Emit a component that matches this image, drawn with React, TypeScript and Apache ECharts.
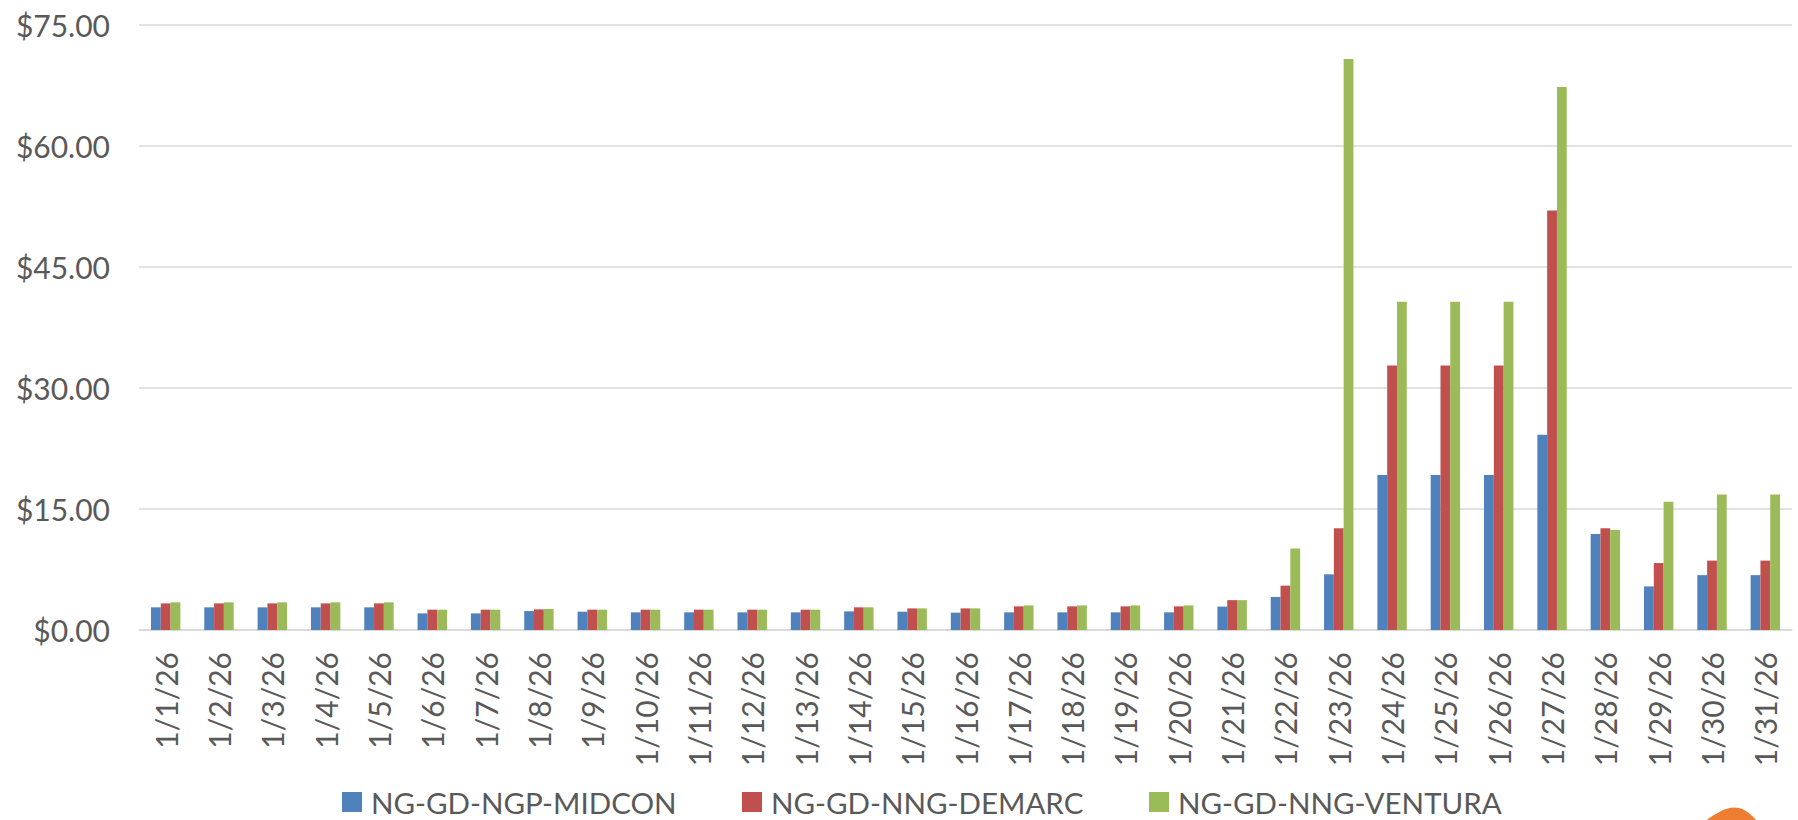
import React, { useEffect, useRef } from "react";
import * as echarts from "echarts";

const categories = [
  "1/1/26", "1/2/26", "1/3/26", "1/4/26", "1/5/26", "1/6/26", "1/7/26", "1/8/26",
  "1/9/26", "1/10/26", "1/11/26", "1/12/26", "1/13/26", "1/14/26", "1/15/26", "1/16/26",
  "1/17/26", "1/18/26", "1/19/26", "1/20/26", "1/21/26", "1/22/26", "1/23/26", "1/24/26",
  "1/25/26", "1/26/26", "1/27/26", "1/28/26", "1/29/26", "1/30/26", "1/31/26",
];

const midcon = [
  2.81, 2.81, 2.81, 2.81, 2.81, 2.06, 2.06, 2.35, 2.27, 2.19, 2.19, 2.19, 2.19, 2.31, 2.27, 2.15,
  2.19, 2.19, 2.19, 2.19, 2.9, 4.1, 6.9, 19.2, 19.2, 19.2, 24.2, 11.9, 5.4, 6.8, 6.8,
];

const demarc = [
  3.3, 3.3, 3.3, 3.3, 3.3, 2.52, 2.52, 2.56, 2.52, 2.52, 2.52, 2.52, 2.52, 2.81, 2.68, 2.68,
  2.93, 2.93, 2.93, 2.93, 3.7, 5.5, 12.6, 32.8, 32.8, 32.8, 52.0, 12.6, 8.3, 8.6, 8.6,
];

const ventura = [
  3.43, 3.43, 3.43, 3.43, 3.43, 2.52, 2.52, 2.6, 2.52, 2.52, 2.52, 2.52, 2.52, 2.81, 2.68, 2.68,
  3.05, 3.05, 3.05, 3.05, 3.7, 10.1, 70.8, 40.7, 40.7, 40.7, 67.3, 12.4, 15.9, 16.8, 16.8,
];

const seriesNames = ["NG-GD-NGP-MIDCON", "NG-GD-NNG-DEMARC", "NG-GD-NNG-VENTURA"];
const seriesColors = ["#4F81BD", "#C0504D", "#9BBB59"];
const seriesData = [midcon, demarc, ventura];
const legendLefts = [342, 742, 1149];

const LOGO_D = "M1704 822 C1715 814 1725 807.6 1734 807.6 C1743 807.6 1750 813 1758 822 Z";

export default function App() {
  const ref = useRef<HTMLDivElement>(null);

  useEffect(() => {
    if (!ref.current) return;
    echarts.graphic.registerShape("logo", echarts.graphic.extendPath(LOGO_D, {}));
    const chart = echarts.init(ref.current, undefined, { renderer: "svg" });
    const font = "Lato";
    const textColor = "#595959";
    chart.setOption({
      animation: false,
      backgroundColor: "#ffffff",
      textStyle: { fontFamily: font },
      grid: { left: 139, right: 6, top: 25, bottom: 190, containLabel: false },
      legend: seriesNames.map((n, i) => ({
        data: [n],
        left: legendLefts[i],
        top: 787,
        padding: 0,
        icon: "rect",
        itemWidth: 20,
        itemHeight: 20,
        textStyle: {
          fontFamily: font,
          fontSize: 29.5,
          color: textColor,
          padding: [0, 0, 0, 4],
          lineHeight: 28,
        },
      })),
      xAxis: {
        type: "category",
        data: categories,
        axisTick: { show: false },
        axisLine: { lineStyle: { color: "#d9d9d9", width: 1.5 } },
        axisLabel: {
          rotate: 90,
          interval: 0,
          margin: 22,
          fontFamily: font,
          fontSize: 30,
          color: textColor,
          padding: [12, 0, 0, 0],
        },
      },
      yAxis: {
        type: "value",
        min: 0,
        max: 75,
        interval: 15,
        axisLine: { show: false },
        axisTick: { show: false },
        splitLine: { lineStyle: { color: "#d9d9d9", width: 1.5 } },
        axisLabel: {
          margin: 29,
          fontFamily: font,
          fontSize: 30,
          color: textColor,
          formatter: (v: number) => "$" + v.toFixed(2),
        },
      },
      series: seriesNames.map((n, i) => ({
        name: n,
        type: "bar",
        data: seriesData[i],
        barWidth: 9.8,
        barGap: "0%",
        itemStyle: { color: seriesColors[i] },
      })),
      graphic: [
        {
          type: "logo",
          x: 0,
          y: 0,
          silent: true,
          style: { fill: "#ED7D31" },
        },
      ],
    });
    return () => chart.dispose();
  }, []);

  return (
    <div
      ref={ref}
      style={{ position: "fixed", left: 0, top: 0, width: 1798, height: 820, background: "#fff" }}
    />
  );
}
